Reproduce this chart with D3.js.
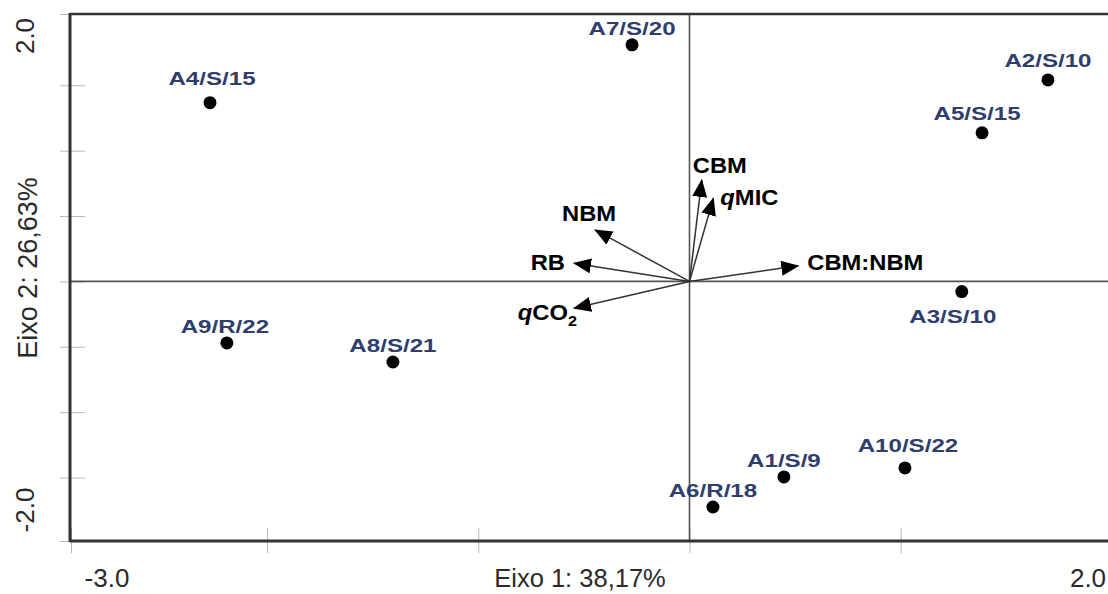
<!DOCTYPE html>
<html>
<head>
<meta charset="utf-8">
<script src="https://cdn.jsdelivr.net/npm/d3@7"></script>
<style>
  html, body { margin: 0; padding: 0; background: #fff; }
  svg { display: block; }
</style>
</head>
<body>
<svg id="chart" width="1108" height="594"></svg>
<script>
// ---- data ----
const sampleNames = ["A1/S/9","A2/S/10","A3/S/10","A4/S/15","A5/S/15","A6/R/18","A7/S/20","A8/S/21","A9/R/22","A10/S/22"];
const sampleAxis1 = [0.447, 1.697, 1.289, -2.270, 1.385, 0.111, -0.272, -1.404, -2.190, 1.020];
const sampleAxis2 = [-1.495, 1.541, -0.078, 1.367, 1.136, -1.725, 1.809, -0.616, -0.470, -1.426];

const variableNames = ["CBM","qMIC","NBM","RB","CBM:NBM","qCO2"];
const variableAxis1 = [0.058, 0.113, -0.447, -0.547, 0.515, -0.547];
const variableAxis2 = [0.776, 0.636, 0.394, 0.139, 0.119, -0.205];

const xTitle = "Eixo 1: 38,17%";
const yTitle = "Eixo 2: 26,63%";
const xEndLabels = ["-3.0", "2.0"];
const yEndLabels = ["-2.0", "2.0"];
const xTickValues = [-2, -1, 0, 1];
const yTickValues = [-1.5, -1, -0.5, 0, 0.5, 1, 1.5];

(function draw() {
// ---- layout ----
const svg = d3.select("#chart");
const pLeft = 70, pRight = 1110, pTop = 14, pBottom = 541;
const x = d3.scaleLinear().domain([-2.928, 1.986]).range([71, 1109]);
const y = d3.scaleLinear().domain([-1.985, 2.045]).range([pBottom, pTop]);

const labelColor = "#2f3e6c";
const frameColor = "#333";
const font = "Arial, 'Liberation Sans', sans-serif";

// ticks (light gray, crossing the frame)
const xAxis = d3.axisBottom(x)
  .tickValues([x.domain()[0]].concat(xTickValues))
  .tickSize(25).tickFormat("");
const gx = svg.append("g").attr("transform", `translate(0,${pBottom - 13})`).call(xAxis);
gx.select(".domain").remove();
gx.selectAll(".tick line").attr("stroke", "#b8b8b8").attr("stroke-width", 1);

const yAxis = d3.axisRight(y)
  .tickValues([y.domain()[0], y.domain()[1]].concat(yTickValues))
  .tickSize(25).tickFormat("");
const gy = svg.append("g").attr("transform", `translate(${pLeft - 10},0)`).call(yAxis);
gy.select(".domain").remove();
gy.selectAll(".tick line").attr("stroke", "#b8b8b8").attr("stroke-width", 1);

// zero lines
svg.append("line")
  .attr("x1", x(0)).attr("x2", x(0)).attr("y1", pTop).attr("y2", pBottom)
  .attr("stroke", "#555").attr("stroke-width", 1.6);
svg.append("line")
  .attr("x1", pLeft).attr("x2", pRight).attr("y1", y(0)).attr("y2", y(0))
  .attr("stroke", "#555").attr("stroke-width", 1.6);

// frame
svg.append("line").attr("x1", pLeft).attr("x2", pRight).attr("y1", pTop).attr("y2", pTop)
  .attr("stroke", frameColor).attr("stroke-width", 2.5);
svg.append("line").attr("x1", pLeft).attr("x2", pLeft).attr("y1", pTop - 1).attr("y2", pBottom + 1)
  .attr("stroke", frameColor).attr("stroke-width", 3);
svg.append("line").attr("x1", pLeft).attr("x2", pRight).attr("y1", pBottom).attr("y2", pBottom)
  .attr("stroke", frameColor).attr("stroke-width", 3);

// axis end labels and titles
const axisTextColor = "#2a2a2a";
svg.append("text").attr("x", 107).attr("y", 587).attr("text-anchor", "middle")
  .attr("font-family", font).attr("font-size", 26)
  .attr("fill", axisTextColor).text(xEndLabels[0]);
svg.append("text").attr("x", 1088).attr("y", 587).attr("text-anchor", "middle")
  .attr("font-family", font).attr("font-size", 26)
  .attr("fill", axisTextColor).text(xEndLabels[1]);
svg.append("text").attr("x", 580).attr("y", 587).attr("text-anchor", "middle")
  .attr("font-family", font).attr("font-size", 25.5)
  .attr("fill", axisTextColor).text(xTitle);

svg.append("text").attr("transform", "translate(34,510) rotate(-90)").attr("text-anchor", "middle")
  .attr("font-family", font).attr("font-size", 26)
  .attr("fill", axisTextColor).text(yEndLabels[0]);
svg.append("text").attr("transform", "translate(34,36) rotate(-90)").attr("text-anchor", "middle")
  .attr("font-family", font).attr("font-size", 26)
  .attr("fill", axisTextColor).text(yEndLabels[1]);
svg.append("text").attr("transform", "translate(37,268) rotate(-90)").attr("text-anchor", "middle")
  .attr("font-family", font).attr("font-size", 27)
  .attr("fill", axisTextColor).text(yTitle);

// arrow marker
svg.append("defs").append("marker")
  .attr("id", "arrow").attr("markerUnits", "userSpaceOnUse")
  .attr("viewBox", "0 0 18 15").attr("refX", 17).attr("refY", 7.5)
  .attr("markerWidth", 18).attr("markerHeight", 15).attr("orient", "auto")
  .append("path").attr("d", "M0,0 L18,7.5 L0,15 Z").attr("fill", "#000");

const variables = variableNames.map((n, i) => ({ name: n, a1: variableAxis1[i], a2: variableAxis2[i] }));
svg.append("g").selectAll("line").data(variables).join("line")
  .attr("x1", x(0)).attr("y1", y(0))
  .attr("x2", d => x(d.a1)).attr("y2", d => y(d.a2))
  .attr("stroke", "#333").attr("stroke-width", 1.5)
  .attr("marker-end", "url(#arrow)");

// variable label placement relative to arrow tips
const varLabelPlace = {
  "CBM":     { dx: -9, dy: -7, anchor: "start" },
  "qMIC":    { dx: 7,  dy: 7,  anchor: "start" },
  "NBM":     { dx: -6, dy: -9, anchor: "middle" },
  "RB":      { dx: -9, dy: 7,  anchor: "end" },
  "CBM:NBM": { dx: 9,  dy: 4,  anchor: "start" },
  "qCO2":    { dx: 3,  dy: 12, anchor: "end" }
};
const vText = svg.append("g").selectAll("text").data(variables).join("text")
  .attr("transform", d => {
    const p = varLabelPlace[d.name];
    return `translate(${x(d.a1) + p.dx},${y(d.a2) + p.dy}) scale(1.08,1)`;
  })
  .attr("text-anchor", d => varLabelPlace[d.name].anchor)
  .attr("font-family", font)
  .attr("font-weight", "bold").attr("font-size", 22).attr("fill", "#000");
vText.each(function(d) {
  const t = d3.select(this);
  if (d.name === "qMIC") {
    t.append("tspan").attr("font-style", "italic").text("q");
    t.append("tspan").text("MIC");
  } else if (d.name === "qCO2") {
    t.append("tspan").attr("font-style", "italic").text("q");
    t.append("tspan").text("CO");
    t.append("tspan").attr("font-size", 15).attr("dy", 6).text("2");
  } else {
    t.text(d.name);
  }
});

// samples
const samples = sampleNames.map((n, i) => ({ name: n, a1: sampleAxis1[i], a2: sampleAxis2[i] }));
svg.append("g").selectAll("circle").data(samples).join("circle")
  .attr("cx", d => x(d.a1)).attr("cy", d => y(d.a2)).attr("r", 6.5).attr("fill", "#000");

const sampleLabelDy = { "A3/S/10": 31, "A4/S/15": -18, "A10/S/22": -16, "A2/S/10": -13, "A5/S/15": -13 };
const sampleLabelDx = { "A3/S/10": -9, "A10/S/22": 3, "A4/S/15": 2, "A5/S/15": -5, "A9/R/22": -2 };
svg.append("g").selectAll("text").data(samples).join("text")
  .attr("transform", d => {
    const dy = sampleLabelDy[d.name] !== undefined ? sampleLabelDy[d.name] : -10;
    const dx = sampleLabelDx[d.name] || 0;
    return `translate(${x(d.a1) + dx},${y(d.a2) + dy}) scale(1.27,1)`;
  })
  .attr("text-anchor", "middle")
  .attr("font-family", font)
  .attr("font-weight", "bold").attr("font-size", 19).attr("fill", labelColor)
  .text(d => d.name);
})();
</script>
</body>
</html>
